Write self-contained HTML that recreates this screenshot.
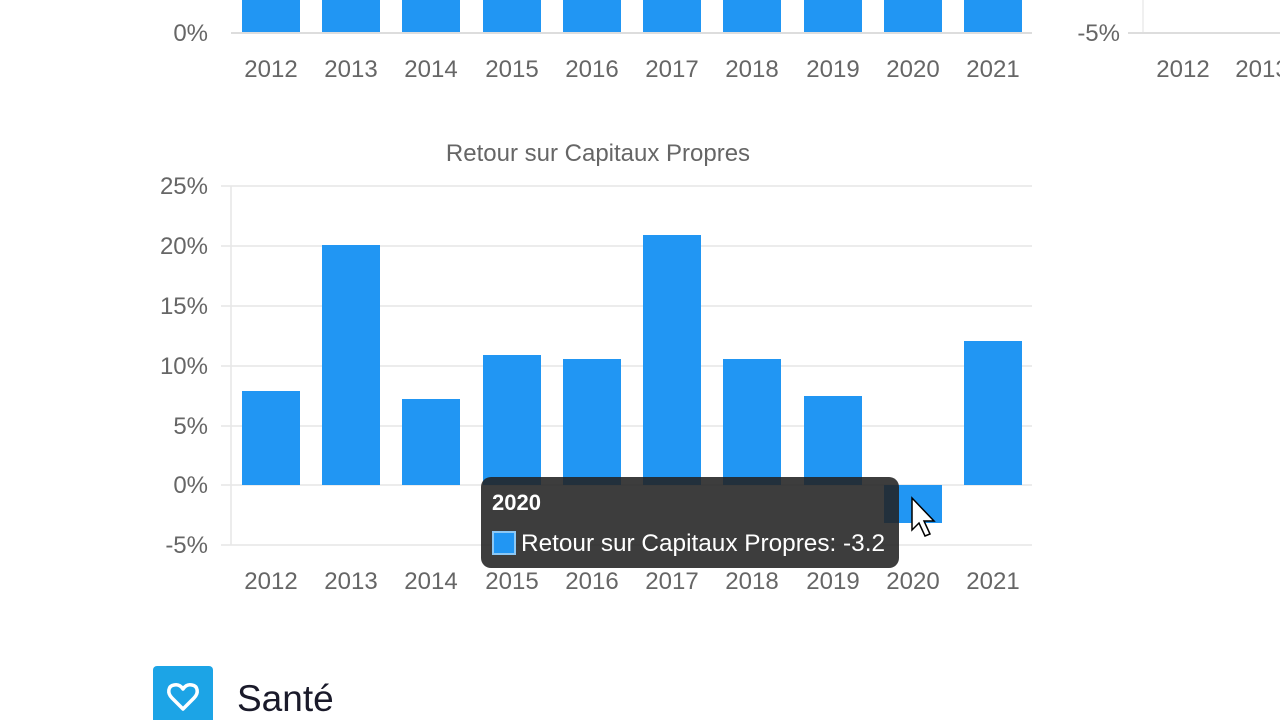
<!DOCTYPE html>
<html><head><meta charset="utf-8"><style>
html,body{margin:0;padding:0;background:#fff;width:1280px;height:720px;overflow:hidden}
svg{display:block}
text{font-family:"Liberation Sans",sans-serif}
</style></head><body>
<svg width="1280" height="720" viewBox="0 0 1280 720">
<g fill="#2196f3">
<rect x="242" y="0" width="58" height="32"/><rect x="322" y="0" width="58" height="32"/>
<rect x="402" y="0" width="58" height="32"/><rect x="483" y="0" width="58" height="32"/>
<rect x="563" y="0" width="58" height="32"/><rect x="643" y="0" width="58" height="32"/>
<rect x="723" y="0" width="58" height="32"/><rect x="804" y="0" width="58" height="32"/>
<rect x="884" y="0" width="58" height="32"/><rect x="964" y="0" width="58" height="32"/>
</g>
<line x1="231" y1="33" x2="1032" y2="33" stroke="#ddd" stroke-width="2"/>
<g font-size="24" fill="#666" text-anchor="middle">
<text x="271" y="77">2012</text><text x="351" y="77">2013</text><text x="431" y="77">2014</text>
<text x="512" y="77">2015</text><text x="592" y="77">2016</text><text x="672" y="77">2017</text>
<text x="752" y="77">2018</text><text x="833" y="77">2019</text><text x="913" y="77">2020</text>
<text x="993" y="77">2021</text>
<text x="1183" y="77">2012</text><text x="1262" y="77">2013</text>
</g>
<g font-size="24" fill="#666" text-anchor="end">
<text x="208" y="41">0%</text>
<text x="1120" y="41">-5%</text>
</g>
<line x1="1143" y1="0" x2="1143" y2="33" stroke="#e0e0e0"/>
<line x1="1128" y1="33" x2="1280" y2="33" stroke="#ddd" stroke-width="2"/>

<text x="598" y="161" font-size="24" fill="#666" text-anchor="middle">Retour sur Capitaux Propres</text>
<g stroke="#e6e6e6" stroke-width="1.5">
<line x1="221" y1="186" x2="1032" y2="186"/><line x1="221" y1="246" x2="1032" y2="246"/>
<line x1="221" y1="306" x2="1032" y2="306"/><line x1="221" y1="366" x2="1032" y2="366"/>
<line x1="221" y1="426" x2="1032" y2="426"/><line x1="221" y1="485" x2="1032" y2="485"/>
<line x1="221" y1="545" x2="1032" y2="545"/>
</g>
<line x1="231" y1="186" x2="231" y2="545" stroke="#e6e6e6" stroke-width="1.5"/>
<g font-size="24" fill="#666" text-anchor="end">
<text x="208" y="194">25%</text><text x="208" y="254">20%</text><text x="208" y="314">15%</text>
<text x="208" y="374">10%</text><text x="208" y="434">5%</text><text x="208" y="493">0%</text>
<text x="208" y="553">-5%</text>
</g>
<g fill="#2196f3">
<rect x="242" y="391" width="58" height="94"/>
<rect x="322" y="245" width="58" height="240"/>
<rect x="402" y="399" width="58" height="86"/>
<rect x="483" y="355" width="58" height="130"/>
<rect x="563" y="359" width="58" height="126"/>
<rect x="643" y="235" width="58" height="250"/>
<rect x="723" y="359" width="58" height="126"/>
<rect x="804" y="396" width="58" height="89"/>
<rect x="884" y="485" width="58" height="38"/>
<rect x="964" y="341" width="58" height="144"/>
</g>
<g font-size="24" fill="#666" text-anchor="middle">
<text x="271" y="589">2012</text><text x="351" y="589">2013</text><text x="431" y="589">2014</text>
<text x="512" y="589">2015</text><text x="592" y="589">2016</text><text x="672" y="589">2017</text>
<text x="752" y="589">2018</text><text x="833" y="589">2019</text><text x="913" y="589">2020</text>
<text x="993" y="589">2021</text>
</g>
<rect x="481" y="477" width="418" height="91" rx="10" fill="#222" fill-opacity="0.88"/>
<text x="492" y="510" font-size="22" font-weight="bold" fill="#fff">2020</text>
<rect x="493" y="532" width="22" height="22" fill="#2196f3" stroke="#8cc8f5" stroke-width="2"/>
<text x="521" y="551" font-size="24" fill="#fff" textLength="364" lengthAdjust="spacingAndGlyphs">Retour sur Capitaux Propres: -3.2</text>
<path d="M912,498 L912,530 L919,523 L925,536 L930,534 L924,521 L934,521 Z" fill="#fff" stroke="#000" stroke-width="1.5"/>

<rect x="153" y="666" width="60" height="60" rx="4" fill="#1ca4e6"/>
<path d="M183,709 L172,698 C167,693 168,686 174,685 C178,684 181,686 183,689 C185,686 188,684 192,685 C198,686 199,693 194,698 Z" fill="none" stroke="#fff" stroke-width="3.5" stroke-linejoin="round"/>
<text x="237" y="711" font-size="37" fill="#1a1a2a">Santé</text>
</svg>
</body></html>
